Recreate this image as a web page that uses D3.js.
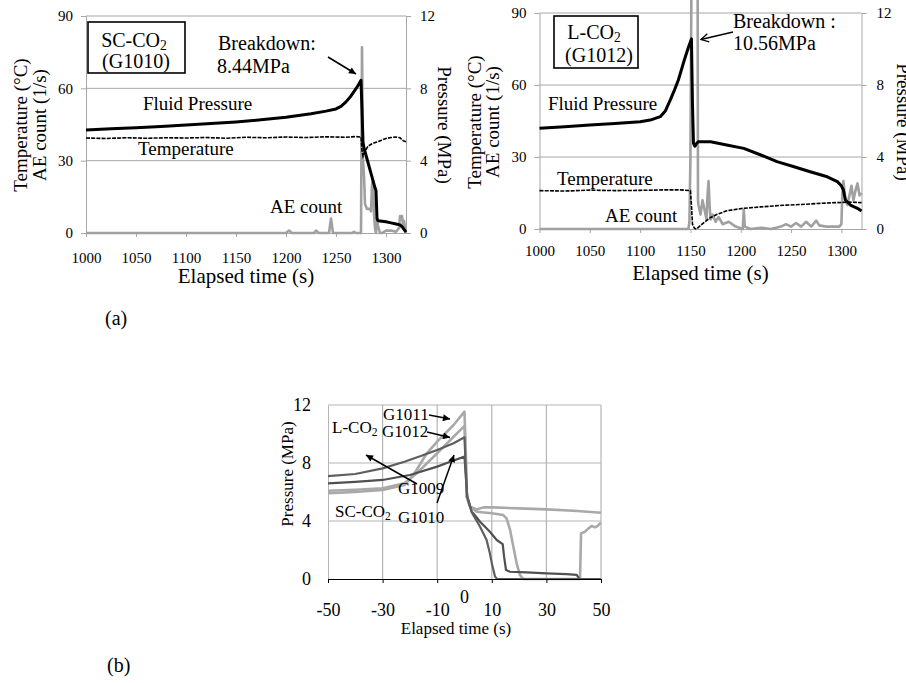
<!DOCTYPE html>
<html><head><meta charset="utf-8">
<script src="https://cdn.jsdelivr.net/npm/d3@7/dist/d3.min.js"></script>
<style>
body{margin:0;background:#fff}
svg text{font-family:"Liberation Serif","Times New Roman",serif;fill:#000}
</style>
</head><body>
<svg id="c" width="906" height="683" font-family="Liberation Serif"></svg>
<script>
// ---------- DATA ----------
const timeTicks = [1000,1050,1100,1150,1200,1250,1300];
const tempTicks = [0,30,60,90];
const pressTicks = [0,4,8,12];

// (a) left: SC-CO2 (G1010)
const scPressure = [[1000,5.70],[1025,5.76],[1050,5.82],[1075,5.89],[1100,5.97],[1125,6.05],[1150,6.14],[1175,6.26],[1200,6.40],[1225,6.60],[1240,6.74],[1250,6.86],[1255,7.00],[1260,7.25],[1265,7.58],[1270,7.98],[1273,8.25],[1275,8.44],[1276,6.8],[1277,5.0],[1278,4.7],[1280,4.3],[1285,3.3],[1289,2.5],[1290,2.35],[1291,0.8],[1292,0.68],[1300,0.62],[1305,0.56],[1310,0.5],[1314,0.45],[1316,0.35],[1320,0.05]];
const scTemperature = [[1000,39.4],[1020,39.2],[1040,39.5],[1060,39.3],[1080,39.5],[1100,39.4],[1120,39.6],[1140,39.3],[1160,39.7],[1180,39.5],[1200,39.8],[1220,39.6],[1240,39.9],[1260,39.7],[1270,40.0],[1275,39.8],[1276,34.0],[1277,31.8],[1279,33.8],[1282,36.0],[1286,37.0],[1290,37.6],[1295,38.4],[1300,39.2],[1305,39.6],[1310,39.8],[1314,39.5],[1317,38.3],[1320,37.8]];
const scAE = [[1000,0],[1200,0],[1203,1],[1206,0],[1228,0],[1230,1],[1233,0],[1243,0],[1244,3],[1245,6],[1246,3],[1247,0],[1266,0],[1268,0.5],[1270,0],[1275,0],[1276,77],[1277,30],[1278,24],[1279,12],[1281,10],[1284,10],[1285,9],[1286,20],[1287,22],[1288,8],[1289,2],[1290,0],[1291,5],[1292,3],[1294,0],[1296,0],[1300,1],[1305,1],[1310,0.5],[1313,2],[1314,7],[1316,7],[1317,3],[1318,5],[1319,2],[1320,0]];

// (a) right: L-CO2 (G1012)
const lPressure = [[1000,5.60],[1025,5.68],[1050,5.78],[1075,5.86],[1100,5.96],[1110,6.05],[1120,6.24],[1125,6.55],[1130,7.17],[1134,7.7],[1138,8.28],[1144,9.40],[1148,10.1],[1151,10.56],[1152,7.0],[1153,4.76],[1154.5,4.6],[1156,4.75],[1158,4.85],[1170,4.85],[1186,4.67],[1203,4.48],[1220,4.11],[1236,3.74],[1253,3.46],[1269,3.18],[1286,2.9],[1296,2.63],[1300,2.4],[1302,2.17],[1304,1.61],[1309,1.33],[1316,1.15],[1320,1.0]];
const lTemperature = [[1000,16.0],[1025,15.8],[1050,16.2],[1075,16.0],[1100,16.1],[1125,16.3],[1140,16.3],[1150,16.0],[1151,10],[1152,2],[1154,0.3],[1156,0],[1160,1.5],[1165,3.2],[1170,4.8],[1176,6.0],[1186,7.6],[1202,8.6],[1220,9.2],[1242,9.9],[1260,10.2],[1275,10.6],[1290,10.9],[1308,11.2],[1320,11.0]];
const lAE = [[1000,0],[1148,0],[1149,3],[1150,30],[1151.5,140],[1157,140],[1157.5,12],[1158,10],[1160,6],[1162,12],[1164,8],[1166,4],[1167,14],[1168,20],[1169,10],[1170,4],[1172,6],[1175,3],[1178,5],[1182,2],[1188,3],[1195,1],[1202,0],[1203,8],[1204,1],[1210,0],[1220,0.5],[1230,0],[1240,1],[1245,2],[1250,1],[1255,2.5],[1260,1],[1265,3],[1270,1],[1275,3.5],[1278,1.5],[1285,1],[1290,1],[1298,1],[1300,2],[1301,15],[1302,20],[1304,12],[1306,10],[1308,14],[1310,18],[1312,12],[1314,16],[1316,19],[1318,14],[1320,15]];

// (b) pressure around breakdown
const bTicksX = [-50,-30,-10,10,30,50];
const bTicksY = [0,4,8,12];
const g1009 = [[-50,7.10],[-40,7.24],[-30,7.63],[-22,8.09],[-16,8.48],[-10,8.90],[-4,9.36],[0,9.77],[0.5,7.5],[1,5.7],[2.6,4.64],[3.2,4.41],[5.7,3.6],[8.1,2.69],[9.3,1.77],[10,1.08],[11.2,0.16],[12,0],[50,0]];
const g1010 = [[-50,6.60],[-40,6.70],[-30,6.83],[-20,7.17],[-10,7.75],[-5,8.10],[0,8.44],[0.5,7.0],[1,5.7],[2.6,4.64],[3.2,4.53],[5.7,3.95],[9.3,3.26],[11.8,2.69],[14,2.41],[14.5,1.54],[15.2,0.62],[16.7,0.5],[22.8,0.46],[30,0.39],[37.4,0.34],[41.1,0.28],[42.1,0],[50,0]];
const g1011 = [[-50,5.91],[-40,6.0],[-30,6.14],[-22,6.48],[-18.7,7.17],[-13.8,8.67],[-10,9.47],[-4,10.62],[0,11.54],[0.5,8.5],[0.8,5.68],[2,5.0],[4.5,4.64],[10,4.53],[14.2,4.41],[15.4,4.18],[16.7,3.38],[17.9,2.23],[19.1,1.08],[20.3,0.28],[21.5,0],[42.3,0],[42.7,3.15],[44.1,3.26],[45.4,3.49],[46.6,3.66],[47.8,3.56],[48.8,3.66],[50,3.89]];
const g1012 = [[-50,6.09],[-40,6.15],[-30,6.25],[-22,6.60],[-17.5,7.29],[-10,8.67],[-4,9.81],[0,10.56],[0.5,8.0],[0.8,5.68],[2,4.99],[4.5,4.8],[6.9,4.94],[10.6,4.94],[20,4.87],[30,4.8],[40,4.71],[50,4.57]];

// ---------- DRAW ----------
const svg = d3.select("#c");
const GRID = "#a6a6a6";
const SERIF = '"Liberation Serif","Times New Roman",serif';

svg.append("defs").html(`
  <marker id="ah" viewBox="-10 -5 12 10" refX="0" refY="0" markerWidth="9" markerHeight="7" markerUnits="userSpaceOnUse" orient="auto">
    <path d="M-10,-5 L0,0 L-10,5 Z" fill="#000"/></marker>
  <marker id="ao" viewBox="-10 -6 12 12" refX="0" refY="0" markerWidth="10" markerHeight="10" markerUnits="userSpaceOnUse" orient="auto">
    <path d="M-9,-5 L0,0 L-9,5" fill="none" stroke="#000" stroke-width="1.5"/></marker>`);

function styleAxis(g, col, size){
  g.attr("font-family",null).attr("font-size",null);
  g.select(".domain").attr("stroke",col).attr("stroke-width",1);
  g.selectAll(".tick line").attr("stroke",col);
  g.selectAll(".tick text").style("font-size",size+"px").style("font-family",SERIF).attr("fill","#000");
}

function panelA(o){
  const x = d3.scaleLinear().domain([1000,1320]).range([o.left,o.right]);
  const yL = d3.scaleLinear().domain([0,90]).range([o.bottom,o.top]);
  const yR = d3.scaleLinear().domain([0,12]).range([o.bottom,o.top]);
  const g = svg.append("g");
  g.selectAll("line.grid").data(tempTicks.slice(1)).join("line").attr("class","grid")
    .attr("x1",o.left).attr("x2",o.right).attr("y1",d=>yL(d)).attr("y2",d=>yL(d))
    .attr("stroke",GRID).attr("stroke-width",1);
  const ax = g.append("g").attr("transform",`translate(0,${o.bottom})`)
    .call(d3.axisBottom(x).tickValues(timeTicks).tickSizeInner(4).tickSizeOuter(0).tickPadding(o.xpad).tickFormat(d3.format("d")));
  styleAxis(ax, GRID, 15);
  const al = g.append("g").attr("transform",`translate(${o.left},0)`)
    .call(d3.axisLeft(yL).tickValues(tempTicks).tickSizeInner(5).tickSizeOuter(0).tickPadding(o.lpad));
  styleAxis(al, GRID, 15);
  const ar = g.append("g").attr("transform",`translate(${o.right},0)`)
    .call(d3.axisRight(yR).tickValues(pressTicks).tickSizeInner(5).tickSizeOuter(0).tickPadding(o.rpad));
  styleAxis(ar, GRID, 15);

  const lineL = d3.line().x(d=>x(d[0])).y(d=>yL(d[1]));
  const lineR = d3.line().x(d=>x(d[0])).y(d=>yR(d[1]));
  g.append("path").datum(o.ae).attr("d",lineL).attr("fill","none")
    .attr("stroke","#a0a0a0").attr("stroke-width",2.6).attr("stroke-linejoin","round");
  g.append("path").datum(o.temp).attr("d",lineL).attr("fill","none")
    .attr("stroke","#000").attr("stroke-width",1.6).attr("stroke-dasharray","4,1.2");
  g.append("path").datum(o.press).attr("d",lineR).attr("fill","none")
    .attr("stroke","#000").attr("stroke-width",3).attr("stroke-linejoin","round");

  g.append("text").attr("x",(o.left+o.right)/2).attr("y",o.bottom+o.titleDy)
    .attr("text-anchor","middle").style("font-size","21px").text("Elapsed time  (s)");
  g.append("text").attr("transform",`translate(${o.left-o.t1},${o.ymid}) rotate(-90)`)
    .attr("text-anchor","middle").style("font-size","19px").text("Temperature (°C)");
  g.append("text").attr("transform",`translate(${o.left-o.t2},${o.ymid}) rotate(-90)`)
    .attr("text-anchor","middle").style("font-size","19px").text("AE count (1/s)");
  g.append("text").attr("transform",`translate(${o.right+o.t3},${o.ymid}) rotate(90)`)
    .attr("text-anchor","middle").style("font-size","19px").text("Pressure  (MPa)");
  return g;
}

function sub(t, main, s){
  t.append("tspan").text(main);
  t.append("tspan").attr("dy",3).style("font-size","0.68em").text(s);
}

// (a) left panel
const gA1 = panelA({left:86,right:406,top:16,bottom:233,xpad:15,lpad:8,rpad:9,titleDy:50,
  t1:59,t2:40,t3:32,ymid:125,press:scPressure,temp:scTemperature,ae:scAE});
gA1.append("rect").attr("x",88).attr("y",22).attr("width",97).attr("height",51)
  .attr("fill","#fff").attr("stroke","#000").attr("stroke-width",1.6);
sub(gA1.append("text").attr("x",134).attr("y",47).attr("text-anchor","middle").style("font-size","20px"),"SC-CO","2");
gA1.append("text").attr("x",136).attr("y",68).attr("text-anchor","middle").style("font-size","20px").text("(G1010)");
gA1.append("text").attr("x",218).attr("y",50).style("font-size","20px").text("Breakdown:");
gA1.append("text").attr("x",217).attr("y",73).style("font-size","20px").text("8.44MPa");
gA1.append("line").attr("x1",328).attr("y1",57).attr("x2",356).attr("y2",74)
  .attr("stroke","#000").attr("stroke-width",1.6).attr("marker-end","url(#ah)");
gA1.append("text").attr("x",143).attr("y",110).style("font-size","19px").text("Fluid Pressure");
gA1.append("text").attr("x",138).attr("y",155).style("font-size","19px").text("Temperature");
gA1.append("text").attr("x",270).attr("y",213).style("font-size","19px").text("AE count");

// (a) right panel
const gA2 = panelA({left:539.5,right:861.5,top:13,bottom:229,xpad:12,lpad:8,rpad:10,titleDy:51,
  t1:59,t2:41,t3:35,ymid:122,press:lPressure,temp:lTemperature,ae:lAE});
gA2.append("rect").attr("x",554).attr("y",16).attr("width",84).attr("height",52)
  .attr("fill","#fff").attr("stroke","#000").attr("stroke-width",1.6);
sub(gA2.append("text").attr("x",594).attr("y",39).attr("text-anchor","middle").style("font-size","20px"),"L-CO","2");
gA2.append("text").attr("x",599).attr("y",62).attr("text-anchor","middle").style("font-size","20px").text("(G1012)");
gA2.append("text").attr("x",733).attr("y",28).style("font-size","20px").text("Breakdown :");
gA2.append("text").attr("x",733).attr("y",50).style("font-size","20px").text("10.56MPa");
gA2.append("line").attr("x1",733).attr("y1",32).attr("x2",701).attr("y2",39.5)
  .attr("stroke","#000").attr("stroke-width",1.5).attr("marker-end","url(#ao)");
gA2.append("text").attr("x",548).attr("y",110).style("font-size","19px").text("Fluid Pressure");
gA2.append("text").attr("x",557).attr("y",185).style("font-size","19px").text("Temperature");
gA2.append("text").attr("x",605).attr("y",222).style("font-size","19px").text("AE count");

svg.append("text").attr("x",105).attr("y",325).style("font-size","20px").text("(a)");

// (b) panel
{
  const x = d3.scaleLinear().domain([-50,50]).range([328,601]);
  const y = d3.scaleLinear().domain([0,12]).range([579,405]);
  const g = svg.append("g");
  g.selectAll("line.gx").data(bTicksX.slice(1)).join("line")
    .attr("x1",d=>x(d)).attr("x2",d=>x(d)).attr("y1",y(0)).attr("y2",y(12))
    .attr("stroke","#b5b5b5").attr("stroke-width",1.2);
  g.selectAll("line.gy").data(bTicksY.slice(1)).join("line")
    .attr("x1",x(-50)).attr("x2",x(50)).attr("y1",d=>y(d)).attr("y2",d=>y(d))
    .attr("stroke","#b5b5b5").attr("stroke-width",1.2);
  const al = g.append("g").attr("transform",`translate(${x(-50)},0)`)
    .call(d3.axisLeft(y).tickValues(bTicksY).tickSizeInner(0).tickSizeOuter(0).tickPadding(17));
  styleAxis(al,"#b5b5b5",18);
  const line = d3.line().x(d=>x(d[0])).y(d=>y(d[1]));
  const series = [
    {d:g1011,c:"#a9a9a9",w:2.6},{d:g1012,c:"#a9a9a9",w:2.6},
    {d:g1010,c:"#505050",w:2.2},{d:g1009,c:"#5e5e5e",w:2.2}];
  series.forEach(s=>g.append("path").datum(s.d).attr("d",line).attr("fill","none")
    .attr("stroke",s.c).attr("stroke-width",s.w).attr("stroke-linejoin","round"));
  const ax = g.append("g").attr("transform",`translate(0,${y(0)})`)
    .call(d3.axisBottom(x).tickValues(bTicksX).tickSizeInner(4).tickSizeOuter(0).tickPadding(20)
      .tickFormat(d => d < 0 ? "-" + Math.abs(d) : String(d)));
  styleAxis(ax,"#000",18);
  ax.select(".domain").attr("stroke-width",1.2);
  g.append("text").attr("x",x(0)).attr("y",603).attr("text-anchor","middle").style("font-size","18px").text("0");
  g.append("text").attr("x",456).attr("y",634).attr("text-anchor","middle").style("font-size","17px").text("Elapsed time (s)");
  g.append("text").attr("transform","translate(293,474) rotate(-90)").attr("text-anchor","middle").style("font-size","17px").text("Pressure (MPa)");

  sub(g.append("text").attr("x",332).attr("y",433).style("font-size","17px"),"L-CO","2");
  g.append("text").attr("x",383).attr("y",420).style("font-size","17px").text("G1011");
  g.append("text").attr("x",382).attr("y",437).style("font-size","17px").text("G1012");
  g.append("text").attr("x",398).attr("y",494).style("font-size","17px").text("G1009");
  g.append("text").attr("x",398).attr("y",523).style("font-size","17px").text("G1010");
  sub(g.append("text").attr("x",335).attr("y",517).style("font-size","17px"),"SC-CO","2");
  const arrows = [[429,415,450,419],[427,432,450,437.5],[417,484,366,455],[437,503,454,455]];
  g.selectAll("line.arr").data(arrows).join("line")
    .attr("x1",d=>d[0]).attr("y1",d=>d[1]).attr("x2",d=>d[2]).attr("y2",d=>d[3])
    .attr("stroke","#000").attr("stroke-width",1.5).attr("marker-end","url(#ah)");
}
svg.append("text").attr("x",107).attr("y",672).style("font-size","20px").text("(b)");
</script>
</body></html>
